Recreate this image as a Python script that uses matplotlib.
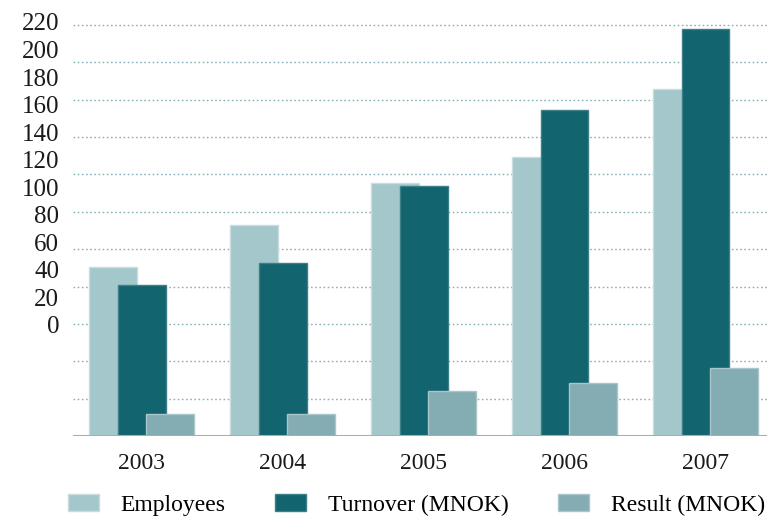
import matplotlib
matplotlib.use("Agg")
import matplotlib.pyplot as plt
import numpy as np

years = ["2003", "2004", "2005", "2006", "2007"]
employees = [90.5, 113, 135.5, 149.5, 186]
turnover = [81, 92.5, 134, 174.5, 218]
result = [12, 12, 24, 28.5, 36.5]
grid_vals = list(range(20, 221, 20))
label_vals = list(range(0, 221, 20))

c_emp = "#a3c7ca"
c_turn = "#12646e"
c_res = "#84adb3"

plt.rcParams['font.family'] = ['Liberation Serif', 'DejaVu Serif']

fig = plt.figure(figsize=(7.67, 5.17), dpi=100)
ax = fig.add_axes([0.0952, 0.1567, 0.9048, 0.8021])

x = np.arange(len(years))
w = 0.34
off = 0.2

for g in grid_vals:
    ax.axhline(g, color="#86b2ba", lw=1, ls=(0, (1.2, 1.8)), zorder=0)

ax.bar(x - off, employees, w, color=c_emp, edgecolor="#c9dddf", lw=1, zorder=2, label="Employees")
ax.bar(x, turnover, w, color=c_turn, edgecolor="#3f7f87", lw=1, zorder=3, label="Turnover (MNOK)")
ax.bar(x + off, result, w, color=c_res, edgecolor="#a9c6ca", lw=1, zorder=4, label="Result (MNOK)")
ax.axhline(0, color="#8fb8bd", lw=2.2, zorder=5)

ax.set_xlim(-0.486, 4.436)
ax.set_ylim(0, 222)
ax.set_xticks(x)
ax.set_xticklabels(years, fontsize=17, color="#1a1a1a")
ax.tick_params(axis="x", length=0, pad=12)
ax.set_yticks([])
for s in ax.spines.values():
    s.set_visible(False)

# value labels sit on their own scale, offset from the gridlines
ax2 = ax.twinx()
ax2.set_ylim(-80.6, 220.5)
ax2.yaxis.set_label_position("left")
ax2.yaxis.tick_left()
ax2.set_yticks(label_vals)
ax2.set_yticklabels([str(v) for v in label_vals], fontsize=18, color="#1a1a1a")
ax2.tick_params(axis="y", length=0, pad=10)
for s in ax2.spines.values():
    s.set_visible(False)

h, l = ax.get_legend_handles_labels()
fig.legend(h, l, loc="center", bbox_to_anchor=(0.543, 0.023), ncol=3, frameon=False,
           fontsize=17, handlelength=1.31, handleheight=0.75, handletextpad=0.93,
           columnspacing=2.1)

fig.savefig("out.png", dpi=100)
